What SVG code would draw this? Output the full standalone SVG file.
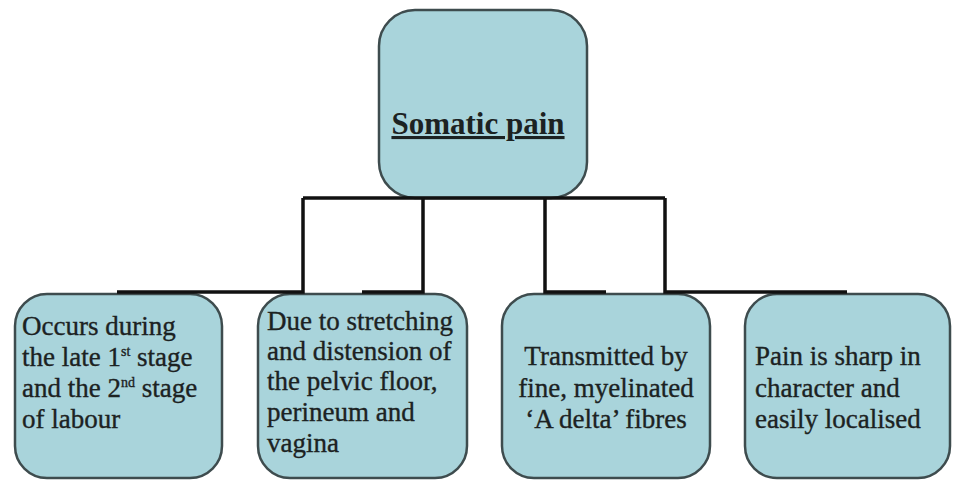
<svg xmlns="http://www.w3.org/2000/svg" width="953" height="481" viewBox="0 0 953 481">
<style>
.box{fill:#a9d4db;stroke:#3e4c4e;stroke-width:2.5}
.t{font-family:"Liberation Serif","Times New Roman",serif;font-size:27px;fill:#1c2222;stroke:#1c2222;stroke-width:0.35}
.title{font-family:"Liberation Serif","Times New Roman",serif;font-size:31px;font-weight:bold;fill:#1c2222;text-decoration:underline}
.sup{font-size:14px}
.conn{fill:none;stroke:#111;stroke-width:3.5}
</style>
<rect width="953" height="481" fill="#ffffff"/>
<g id="node-somatic">
<rect class="box" x="379" y="10" width="208" height="188" rx="36"/>
<text class="title" x="478" y="134" text-anchor="middle">Somatic pain</text>
</g>
<g id="node-occurs">
<rect class="box" x="15" y="294" width="207" height="184" rx="32"/>
<text class="t" x="22" y="335">Occurs during</text>
<text class="t" x="22" y="366">the late 1<tspan class="sup" dy="-10">st</tspan><tspan dy="10"> stage</tspan></text>
<text class="t" x="22" y="397">and the 2<tspan class="sup" dy="-10">nd</tspan><tspan dy="10"> stage</tspan></text>
<text class="t" x="22" y="428">of labour</text>
</g>
<g id="node-due">
<rect class="box" x="258" y="294" width="209" height="184" rx="32"/>
<text class="t" x="267" y="330">Due to stretching</text>
<text class="t" x="267" y="360">and distension of</text>
<text class="t" x="267" y="390">the pelvic floor,</text>
<text class="t" x="267" y="421">perineum and</text>
<text class="t" x="267" y="452">vagina</text>
</g>
<g id="node-transmitted">
<rect class="box" x="502" y="294" width="208" height="184" rx="32"/>
<text class="t" x="606" y="365" text-anchor="middle">Transmitted by</text>
<text class="t" x="606" y="397" text-anchor="middle">fine, myelinated</text>
<text class="t" x="606" y="428" text-anchor="middle">‘A delta’ fibres</text>
</g>
<g id="node-pain">
<rect class="box" x="745" y="294" width="205" height="184" rx="32"/>
<text class="t" x="755" y="365">Pain is sharp in</text>
<text class="t" x="755" y="397">character and</text>
<text class="t" x="755" y="428">easily localised</text>
</g>
<g id="connectors">
<path class="conn" d="M303,198 H665"/>
<path class="conn" d="M303,198 V292 H117"/>
<path class="conn" d="M423,198 V292 H362"/>
<path class="conn" d="M545,198 V292 H606"/>
<path class="conn" d="M665,198 V292 H847"/>
</g>
</svg>
